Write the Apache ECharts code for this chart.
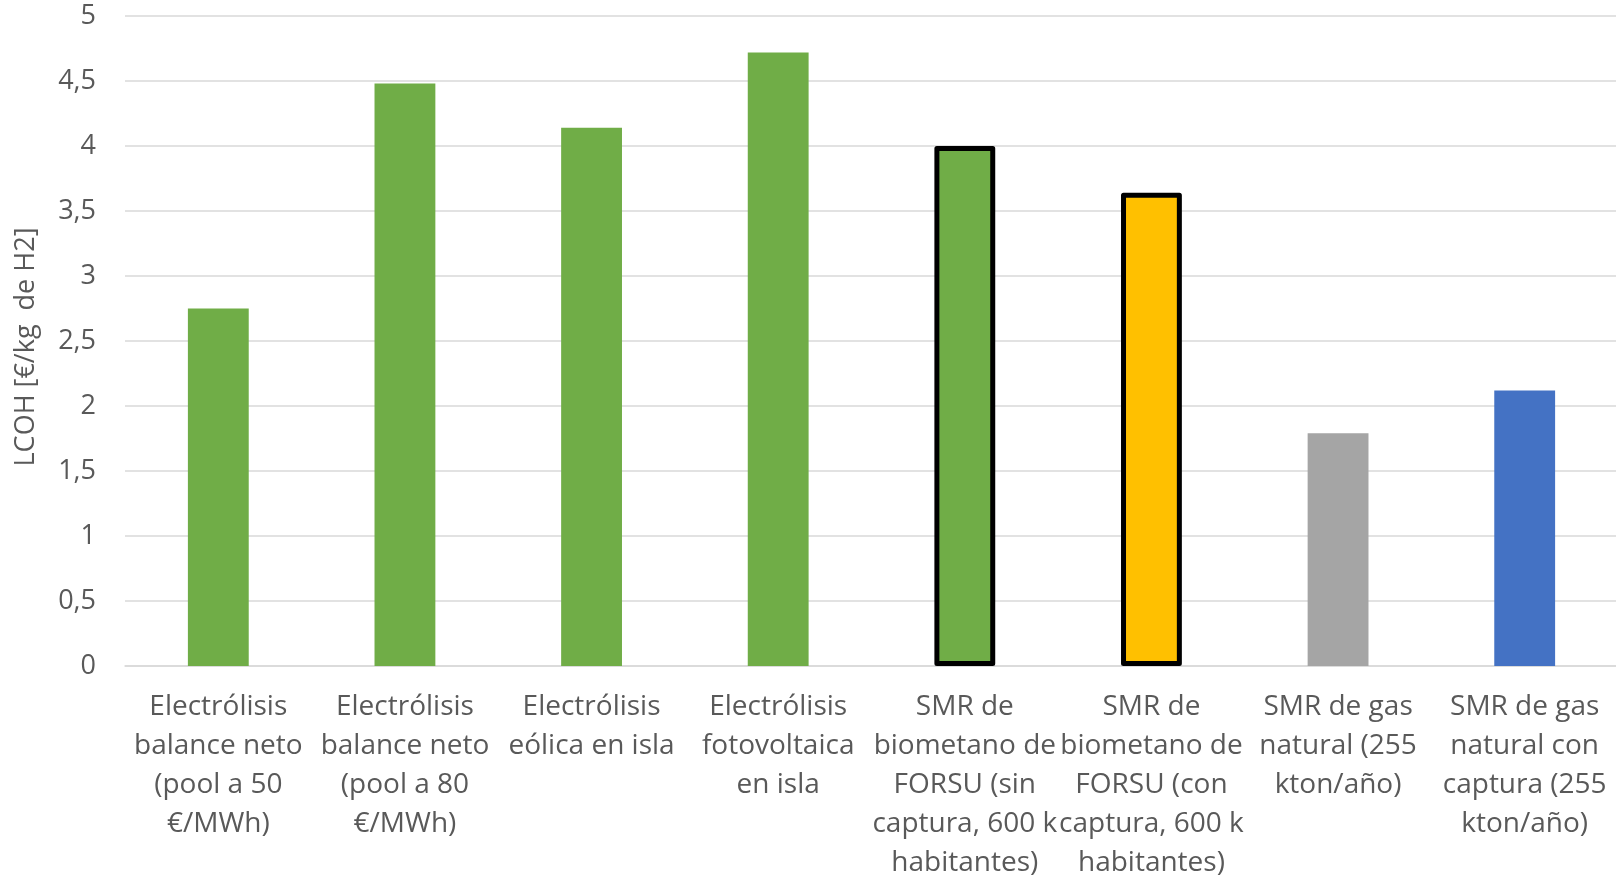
<!DOCTYPE html>
<html>
<head>
<meta charset="utf-8">
<title>LCOH</title>
<script src="https://cdn.jsdelivr.net/npm/echarts@6/dist/echarts.min.js"></script>
<style>
  html, body { margin: 0; padding: 0; background: #ffffff; }
  #chart { width: 1616px; height: 880px; }
</style>
</head>
<body>
<div id="chart"></div>
<script>
// Production routes (label lines broken as printed under each bar)
const categories = [
  'Electrólisis\nbalance neto\n(pool a 50\n€/MWh)',
  'Electrólisis\nbalance neto\n(pool a 80\n€/MWh)',
  'Electrólisis\neólica en isla',
  'Electrólisis\nfotovoltaica\nen isla',
  'SMR de\nbiometano de\nFORSU (sin\ncaptura, 600 k\nhabitantes)',
  'SMR de\nbiometano de\nFORSU (con\ncaptura, 600 k\nhabitantes)',
  'SMR de gas\nnatural (255\nkton/año)',
  'SMR de gas\nnatural con\ncaptura (255\nkton/año)'
];

// Levelized cost of hydrogen, €/kg H2
const lcoh = [2.75, 4.48, 4.14, 4.72, 4.0, 3.64, 1.79, 2.12];

// Fill colour per route
const fills = ['#70AD47', '#70AD47', '#70AD47', '#70AD47', '#70AD47', '#FFC000', '#A5A5A5', '#4472C4'];

// Routes highlighted with a black outline
const outlined = [false, false, false, false, true, true, false, false];

const yTicks = { min: 0, max: 5, interval: 0.5 };
const yName = 'LCOH [€/kg  de H2]';

const textColor = '#595959';
const font = '"Open Sans", "Noto Sans", sans-serif';

const barData = lcoh.map((v, i) => ({
  value: v,
  itemStyle: outlined[i]
    ? { color: fills[i], borderColor: '#000000', borderWidth: 5, borderJoin: 'round' }
    : { color: fills[i] }
}));

const chart = echarts.init(document.getElementById('chart'), null, { renderer: 'canvas' });
chart.setOption({
  animation: false,
  backgroundColor: '#ffffff',
  grid: {
    left: 125, right: -2, top: 16, bottom: 214,
    containLabel: false,
    outerBoundsMode: 'none'
  },
  xAxis: {
    type: 'category',
    data: categories,
    axisLine: { show: true, lineStyle: { color: '#D9D9D9', width: 1.5 } },
    axisTick: { show: false },
    axisLabel: {
      interval: 0,
      hideOverlap: false,
      color: textColor,
      fontFamily: font,
      fontSize: 28,
      lineHeight: 39,
      margin: 22,
      align: 'center'
    }
  },
  yAxis: {
    type: 'value',
    min: yTicks.min,
    max: yTicks.max,
    interval: yTicks.interval,
    name: yName,
    nameLocation: 'middle',
    nameRotate: 90,
    nameGap: 85,
    nameTextStyle: { color: textColor, fontFamily: font, fontSize: 27, padding: [0, 12, 0, 0] },
    axisLine: { show: false },
    axisTick: { show: false },
    splitLine: { show: true, lineStyle: { color: '#D9D9D9', width: 1.5 } },
    axisLabel: {
      color: textColor,
      fontFamily: font,
      fontSize: 27,
      margin: 29,
      formatter: v => String(v).replace('.', ',')
    }
  },
  series: [{
    type: 'bar',
    data: barData,
    barWidth: '32.6%',
    silent: true
  }]
});
</script>
</body>
</html>
